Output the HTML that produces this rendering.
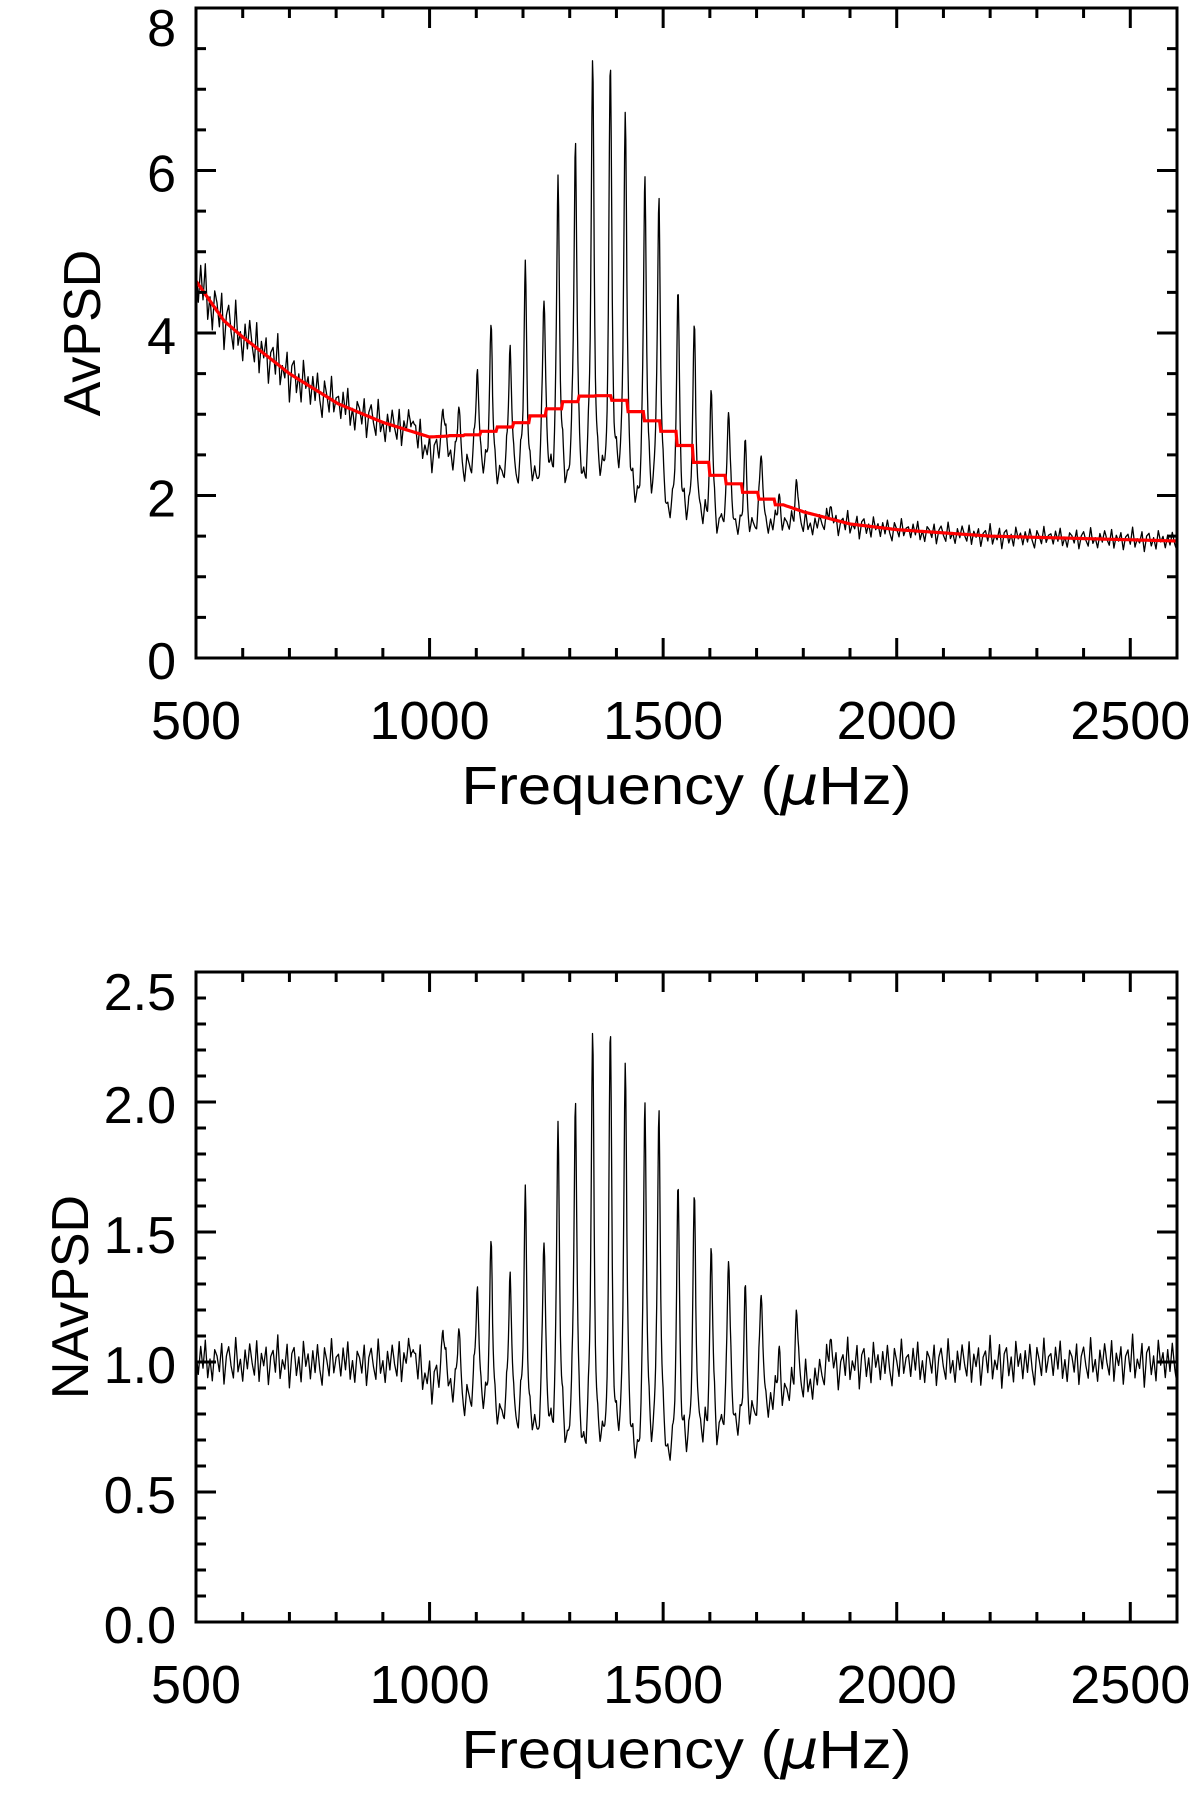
<!DOCTYPE html>
<html><head><meta charset="utf-8"><style>
html,body{margin:0;padding:0;background:#fff}
svg text{font-family:"Liberation Sans",sans-serif;fill:#000}
</style></head><body>
<svg id="chart" width="1200" height="1790" viewBox="0 0 1200 1790" xmlns="http://www.w3.org/2000/svg">
<g id="top"></g>
<g id="bot"></g>
</svg>
<script>
// Mode peaks (frequency µHz, normalized height)
const peakFreqs = [960,1029,1062,1102,1132,1172,1205,1245,1275,1312,1349,1387,1419,1461,1491,1532,1567,1603,1640,1676,1710,1748,1785,1857];
const peakHeights = [1.10,1.16,1.10,1.28,1.42,1.35,1.64,1.47,1.84,1.99,2.20,2.19,2.12,1.94,1.94,1.61,1.61,1.42,1.42,1.23,1.27,1.06,1.17,1.10];
// Dip of normalized baseline in the mode region
const dipFreqs = [500,950,1050,1150,1250,1330,1400,1500,1600,1700,1800,1900,2600];
const dipLevels = [1.0,0.99,0.86,0.73,0.62,0.55,0.54,0.55,0.63,0.74,0.9,0.99,1.0];
// Fitted background (red)
const bgFreqs = [500,560,600,656,700,804,900,1000,1100,1200,1300,1350,1400,1450,1500,1550,1600,1650,1700,1800,1900,2000,2200,2400,2600];
const bgValues = [4.64,4.15,3.95,3.7,3.5,3.13,2.9,2.72,2.75,2.9,3.15,3.25,3.2,3.0,2.85,2.6,2.3,2.15,2.0,1.8,1.65,1.58,1.5,1.47,1.44];
// Measured noise residuals (cycled, one per 5 µHz)
const noise = [0.03,-0.04,0.05,-0.02,0.07,-0.05,0.01,-0.06,0.04,0.02,-0.03,0.06,-0.07,0.02,0.05,-0.01,-0.05,0.08,-0.03,0.01,-0.06,0.04,-0.02,0.06,0.00,-0.04,0.07,-0.06,0.03,-0.01,0.05,-0.07,0.02,0.04,-0.03,0.09,-0.05,0.01,-0.02,0.06,-0.08,0.03,0.05,-0.04,0.02,-0.06,0.07,-0.01,0.03,-0.05,0.04,-0.03,0.06,-0.02,-0.07,0.05,0.01,-0.04,0.08,-0.03,0.02];
const xTicks = [500,1000,1500,2000,2500];
const topYTicks = ["0","2","4","6","8"];
const botYTicks = ["0.0","0.5","1.0","1.5","2.0","2.5"];

const NS="http://www.w3.org/2000/svg";
const L=196,R=1177;
const xs=f=>L+(f-500)*(R-L)/2100;
function interp(xa,ya,f){for(let i=0;i<xa.length-1;i++){if(f<=xa[i+1]){const t=(f-xa[i])/(xa[i+1]-xa[i]);return ya[i]+t*(ya[i+1]-ya[i]);}}return ya[ya.length-1];}
function mk(p,tag,at){const e=document.createElementNS(NS,tag);for(const k in at)e.setAttribute(k,at[k]);p.appendChild(e);return e;}
function noiseAt(f){const u=(f-500)/5,i=Math.floor(u),t=u-i,N=noise.length;return noise[i%N]*(1-t)+noise[(i+1)%N]*t;}
function normVal(f){
  const base=interp(dipFreqs,dipLevels,f);
  let v=base+1.2*noiseAt(f)*(0.5+0.5*base);
  for(let k=0;k<peakFreqs.length;k++){const d=(f-peakFreqs[k])/4.0;v+=(peakHeights[k]-base)/(1+d*d);}
  return v;
}
function panel(g,T,B,ymax,yticks,majStep,minStep,title,dataFn,bgFn,titleX){
  const ys=v=>B-v*(B-T)/ymax;
  const step=1.25,n=Math.round(2100/step),pts=[];
  for(let i=0;i<=n;i++){const f=500+i*step;pts.push(xs(f).toFixed(1)+","+ys(dataFn(f)).toFixed(1));}
  const line=mk(g,"polyline",{points:pts.join(" "),fill:"none",stroke:"#000","stroke-width":1.3,"stroke-linejoin":"round"});
  
  
  if(bgFn){const bp=[];for(let i=0;i<=840;i++){const f=500+i*2.5;bp.push(xs(f).toFixed(1)+","+ys(bgFn(f)).toFixed(1));}
    const bl=mk(g,"polyline",{points:bp.join(" "),fill:"none",stroke:"#f00","stroke-width":3.2});
    
    }
  const fr=mk(g,"rect",{x:L,y:T,width:R-L,height:B-T,fill:"none",stroke:"#000","stroke-width":3});
  
  
  let tk="";
  for(let f=500;f<=2600;f+=100){const x=xs(f),len=(f%500===0)?20:10;tk+=`M${x},${B}v${-len}M${x},${T}v${len}`;}
  for(let v=0;v<=ymax+1e-6;v+=minStep){const y=ys(v),maj=Math.abs(v/majStep-Math.round(v/majStep))<1e-6,len=maj?20:10;tk+=`M${L},${y}h${len}M${R},${y}h${-len}`;}
  const tp=mk(g,"path",{d:tk,stroke:"#000","stroke-width":3,fill:"none"});
  
  
  xTicks.forEach(f=>{const t=mk(g,"text",{x:xs(f),y:B+81,"font-size":54,"text-anchor":"middle"});t.textContent=f;
    
    });
  yticks.forEach(s=>{const by=Math.max(ys(parseFloat(s))+21,T+38);
    const t=mk(g,"text",{x:176,y:by,"font-size":52,"text-anchor":"end"});t.textContent=s;
    
    });
  const xt=mk(g,"text",{x:(L+R)/2,y:B+146,"font-size":54,"text-anchor":"middle",textLength:450,lengthAdjust:"spacingAndGlyphs"});
  xt.innerHTML='Frequency (<tspan font-style="italic" font-family="DejaVu Sans">μ</tspan>Hz)';
  
  
  const cy=(T+B)/2;
  const yt=mk(g,"text",{x:0,y:0,"font-size":52,"text-anchor":"middle",transform:`translate(${titleX},${cy}) rotate(-90)`});
  yt.textContent=title;
  
  
}
const bg=f=>interp(bgFreqs,bgValues,f);
const bgStep=f=>(f>1040&&f<1760)?bg(1040+Math.floor((f-1040)/35)*35+17):bg(f);
panel(document.getElementById('top'),8,658,8,topYTicks,2,0.5,"AvPSD",f=>bg(f)*normVal(f),bgStep,100);
panel(document.getElementById('bot'),972,1622,2.5,botYTicks,0.5,0.1,"NAvPSD",f=>normVal(f),null,88);
</script>
</body></html>
